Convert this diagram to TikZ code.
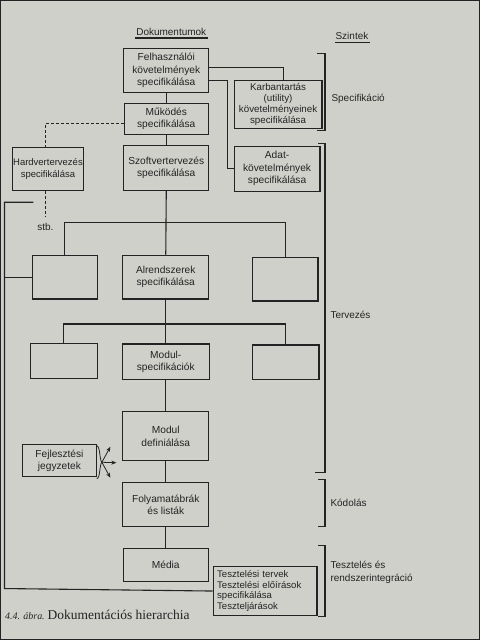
\documentclass[tikz,border=0pt]{standalone}
\usepackage{fontspec}
\setmainfont{Liberation Serif}
\setsansfont{Liberation Sans}
\usetikzlibrary{arrows.meta}
\definecolor{paper}{RGB}{208,208,203}
\definecolor{ink}{RGB}{35,35,35}
\begin{document}
\begin{tikzpicture}[x=1pt,y=-1pt,
  every path/.style={line width=1.1pt, draw=ink},
  box/.style={draw=ink, line width=1.1pt, align=center, inner sep=0pt,
    font=\sffamily\fontsize{10.2}{12.5}\selectfont, text=ink},
  lbl/.style={font=\sffamily\fontsize{10}{12.5}\selectfont, text=ink, inner sep=0pt},
  dashline/.style={dash pattern=on 3pt off 2pt},
  arr/.style={-{Stealth[length=5pt,width=4pt]}}]
\fill[paper] (0,0) rectangle (480,640);
\useasboundingbox (0,0) rectangle (480,640);

% headers
\node[lbl, anchor=center] (hdoc) at (171,31) {Dokumentumok};
\draw (135,37.5) -- (208,37.5);
\node[lbl, anchor=center] (hszi) at (352,35) {Szintek};
\draw (335,42) -- (370,42);

% main column
\node[box, minimum width=85pt, minimum height=44pt] (felh) at (166,70) {Felhasználói\\követelmények\\specifikálása};
\node[box, minimum width=84pt, minimum height=31pt] (muk) at (166,118.5) {Működés\\specifikálása};
\node[box, minimum width=85pt, minimum height=45pt] (szoft) at (166,167.5) {Szoftvertervezés\\specifikálása};
\node[box, minimum width=71pt, minimum height=43pt, font=\sffamily\fontsize{9.5}{12.5}\selectfont] (hard) at (47.5,168.5) {Hardvertervezés\\specifikálása};
\node[box, minimum width=88pt, minimum height=48pt, font=\sffamily\fontsize{9.8}{11}\selectfont] (karb) at (278,104) {Karbantartás\\(utility)\\követelményeinek\\specifikálása};
\node[box, minimum width=86pt, minimum height=45pt] (adat) at (277,168.5) {Adat-\\követelmények\\specifikálása};

\node[box, minimum width=65pt, minimum height=44pt] (l2a) at (64.5,277) {};
\node[box, minimum width=86pt, minimum height=44pt] (alr) at (165.5,277) {Alrendszerek\\specifikálása};
\node[box, minimum width=66pt, minimum height=44pt] (l2c) at (285,279) {};

\node[box, minimum width=67pt, minimum height=35pt] (l3a) at (63.5,361) {};
\node[box, minimum width=87pt, minimum height=36pt] (modspec) at (165.5,362) {Modul-\\specifikációk};
\node[box, minimum width=67pt, minimum height=35pt] (l3c) at (285.5,362.5) {};

\node[box, minimum width=86pt, minimum height=49pt] (moddef) at (165.5,436.5) {Modul\\definiálása};
\node[box, minimum width=74pt, minimum height=32pt] (fejl) at (59,461) {Fejlesztési\\jegyzetek};
\node[box, minimum width=86pt, minimum height=44pt] (foly) at (165.5,505) {Folyamatábrák\\és listák};
\node[box, minimum width=85pt, minimum height=33pt] (media) at (165.5,565.5) {Média};
\node[box, minimum width=104pt, minimum height=49pt, align=left, text width=96pt,
  font=\sffamily\fontsize{9.6}{10.5}\selectfont] (teszt) at (265,591.5)
  {Tesztelési tervek\\Tesztelési előírások\\specifikálása\\Teszteljárások};

% connectors, top part
\draw (felh.south) -- (muk.north);
\draw (muk.south) -- (szoft.north);
\draw ([yshift=3pt]felh.east) -| ([xshift=5pt]karb.north);
\draw ([yshift=-10pt]felh.east) -| ([xshift=-6pt]adat.west) -- (adat.west);
\draw[dashline] ([yshift=-4.5pt]muk.west) -| ([xshift=-2.5pt]hard.north);
\node[lbl] (stb) at (45,227) {stb.};
\draw[dashline] ([xshift=-2.5pt]hard.south) -- ([yshift=6pt]stb.north);

% left loop
\coordinate (lt) at (33,202);
\coordinate (lb) at (4,589);
\coordinate (lm) at (4,277);
\draw (lt) -| (lb) -- (teszt.west);
\draw (lm) -- (l2a.west);

% level 2
\coordinate (bus1) at (165.5,222);
\draw (szoft.south) -- (alr.north);
\draw (l2a.north) |- (bus1) -| (l2c.north);

% level 3
\coordinate (bus2) at (165.5,324);
\draw (alr.south) -- (modspec.north);
\draw (l3a.north) |- (bus2) -| (l3c.north);

% lower column
\draw (modspec.south) -- (moddef.north);
\draw (moddef.south) -- (foly.north);
\draw (foly.south) -- (media.north);

% brace and arrows of Fejlesztési jegyzetek
\coordinate (bt) at (96.5,446);
\coordinate (bb) at (96.5,479);
\coordinate (bm) at (101.5,462.5);
\draw[line width=0.8pt] (bt) .. controls (100,447) and (99,460) .. (bm)
      .. controls (99,465) and (100,478) .. (bb);
\coordinate (a1) at (110,447);
\coordinate (a2) at (116,463);
\coordinate (a3) at (110,478);
\draw[arr, line width=0.8pt] (bm) -- (a1);
\draw[arr, line width=0.8pt] (bm) -- (a2);
\draw[arr, line width=0.8pt] (bm) -- (a3);

% level brackets
\draw (317,53) -- (325,53) -- (325,130) -- (317,130);
\node[lbl, anchor=west] (spec) at (331,98) {Specifikáció};
\draw (318,143) -- (325,143) -- (325,473) -- (315,473);
\node[lbl, anchor=west] (terv) at (330,315) {Tervezés};
\draw (318,480) -- (325,480) -- (325,527) -- (318,527);
\node[lbl, anchor=west] (kod) at (330,503) {Kódolás};
\draw (318,546) -- (325,546) -- (325,617) -- (318,617);
\node[lbl, anchor=west, align=left] (tesz) at (330,573) {Tesztelés és\\rendszerintegráció};

% caption
\node[anchor=base west, inner sep=0pt, text=ink] (cap) at (4,620)
  {{\fontsize{10}{10}\selectfont\itshape 4.4. ábra.}\hspace{3pt}{\fontsize{13.5}{14}\selectfont Dokumentációs hierarchia}};
\end{tikzpicture}
\end{document}
